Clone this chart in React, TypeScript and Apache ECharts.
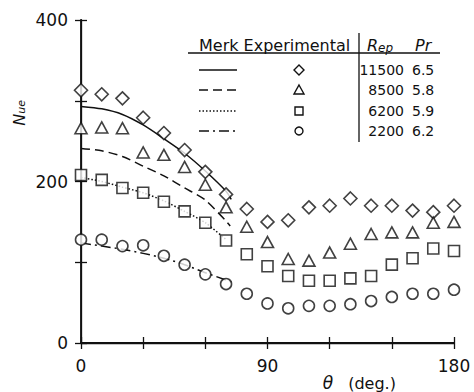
import React, { useEffect, useRef } from "react";
import * as echarts from "echarts";

// Measurement angles (deg) for the experimental points
const angles = [0, 10, 20, 30, 40, 50, 60, 70, 80, 90, 100, 110, 120, 130, 140, 150, 160, 170, 180];

// Experimental Nu values, one array per Reynolds number
const nuRe11500 = [313, 308, 303, 279, 260, 239, 212, 184, 166, 150, 152, 168, 170, 179, 170, 170, 164, 162, 170];
const nuRe8500 = [266, 267, 266, 236, 233, 218, 196, 168, 144, 125, 104, 102, 112, 123, 135, 137, 137, 149, 150];
const nuRe6200 = [208, 202, 192, 186, 175, 163, 149, 127, 110, 95, 83, 77, 77, 80, 83, 97, 105, 117, 114];
const nuRe2200 = [128, 128, 120, 121, 108, 97, 85, 73, 61, 49, 43, 46, 46, 48, 52, 57, 61, 61, 66];

// Merk's predictions (front part of the cylinder only)
const merkAngles11500 = [0, 10, 20, 30, 40, 50, 60, 70, 72.5];
const merk11500 = [293, 290, 283, 270, 253, 235, 213, 188, 178];
const merkAngles8500 = [0, 10, 20, 30, 40, 50, 60, 70, 72];
const merk8500 = [241, 238, 231, 219, 207, 192, 177, 151, 145];
const merkAngles6200 = [0, 10, 20, 30, 40, 50, 60, 70];
const merk6200 = [205, 200, 193, 186, 176, 163, 149, 128];
const merkAngles2200 = [0, 10, 20, 30, 40, 50, 60, 70, 73];
const merk2200 = [124, 120, 116, 111, 105, 97, 87, 78, 75];

// Legend table
const reLabels = ["11500", "8500", "6200", "2200"];
const prLabels = ["6.5", "5.8", "5.9", "6.2"];

const FONT = "'DejaVu Sans', sans-serif";
const INK = "#111";

const pairs = (xs: number[], ys: number[]) => xs.map((x, i) => [x, ys[i]]);

const markerSeries = (data: number[], symbol: string, size: number | number[]) => ({
  type: "scatter",
  data: pairs(angles, data),
  symbol,
  symbolSize: size,
  itemStyle: { color: "#fff", borderColor: INK, borderWidth: 1.6 },
  z: 5,
});

const curveSeries = (xs: number[], ys: number[], dash: any) => ({
  type: "line",
  data: pairs(xs, ys),
  showSymbol: false,
  smooth: 0.25,
  lineStyle: { color: INK, width: 1.5, type: dash },
  z: 3,
});

// vertical y-axis title: sideways text where supported, rotated vertical text otherwise
const titleCss = `
.nu-title { writing-mode: vertical-rl; transform: rotate(180deg); }
@supports (writing-mode: sideways-lr) {
  .nu-title { writing-mode: sideways-lr; transform: none; }
}
`;

export default function App() {
  const ref = useRef<HTMLDivElement>(null);

  useEffect(() => {
    if (!ref.current) return;
    const chart = echarts.init(ref.current, undefined, { renderer: "svg" });

    const rowsY = [70, 90, 111, 131];
    const sampleDash: any[] = [null, [9, 5], [1.5, 2], [10, 4, 2, 4]];
    const g: any[] = [];

    // table header
    g.push({
      type: "text",
      x: 199,
      y: 45,
      style: { text: "Merk Experimental", font: `16px ${FONT}`, fill: INK, textVerticalAlign: "middle" },
    });
    g.push({
      type: "text",
      x: 367,
      y: 45,
      style: { text: "R", font: `italic 16px ${FONT}`, fill: INK, textVerticalAlign: "middle" },
    });
    g.push({
      type: "text",
      x: 378,
      y: 48,
      style: { text: "ep", font: `italic 12px ${FONT}`, fill: INK, textVerticalAlign: "middle" },
    });
    g.push({
      type: "text",
      x: 415,
      y: 45,
      style: { text: "Pr", font: `italic 16px ${FONT}`, fill: INK, textVerticalAlign: "middle" },
    });
    g.push({
      type: "line",
      shape: { x1: 188, y1: 53, x2: 440, y2: 53 },
      style: { stroke: INK, lineWidth: 1.3 },
    });
    g.push({
      type: "line",
      shape: { x1: 359, y1: 33, x2: 359, y2: 142 },
      style: { stroke: INK, lineWidth: 1.3 },
    });

    rowsY.forEach((y, i) => {
      g.push({
        type: "line",
        shape: { x1: 199, y1: y, x2: 237, y2: y },
        style: { stroke: INK, lineWidth: 1.5, lineDash: sampleDash[i] },
      });
      g.push({
        type: "text",
        x: 404,
        y,
        style: { text: reLabels[i], font: `14px ${FONT}`, fill: INK, textAlign: "right", textVerticalAlign: "middle" },
      });
      g.push({
        type: "text",
        x: 412,
        y,
        style: { text: prLabels[i], font: `14px ${FONT}`, fill: INK, textVerticalAlign: "middle" },
      });
    });

    const cx = 299;
    const sym = { fill: "#fff", stroke: INK, lineWidth: 1.4 };
    g.push({
      type: "polygon",
      shape: { points: [[cx, rowsY[0] - 5], [cx + 5, rowsY[0]], [cx, rowsY[0] + 5], [cx - 5, rowsY[0]]] },
      style: sym,
    });
    g.push({
      type: "polygon",
      shape: { points: [[cx, rowsY[1] - 5], [cx + 5, rowsY[1] + 4], [cx - 5, rowsY[1] + 4]] },
      style: sym,
    });
    g.push({
      type: "rect",
      shape: { x: cx - 4, y: rowsY[2] - 4, width: 8, height: 8 },
      style: sym,
    });
    g.push({
      type: "circle",
      shape: { cx, cy: rowsY[3], r: 4 },
      style: sym,
    });

    // x-axis title
    g.push({
      type: "text",
      x: 328,
      y: 383,
      style: { text: "θ", font: `italic 17px ${FONT}`, fill: INK, textAlign: "center", textVerticalAlign: "middle" },
    });
    g.push({
      type: "text",
      x: 372,
      y: 383,
      style: { text: "(deg.)", font: `16px ${FONT}`, fill: INK, textAlign: "center", textVerticalAlign: "middle" },
    });

    const axisLine = { show: true, lineStyle: { color: INK, width: 1.8 } };
    const thinLine = { show: true, lineStyle: { color: INK, width: 1.3 } };
    const tickStyle = { show: true, inside: true, length: 6, lineStyle: { color: INK, width: 1.3 } };

    chart.setOption({
      animation: false,
      backgroundColor: "#fff",
      grid: { left: 81, right: 20, top: 20, bottom: 49 },
      xAxis: [
        {
          type: "value",
          min: 0,
          max: 180,
          interval: 30,
          axisLine,
          axisTick: tickStyle,
          splitLine: { show: false },
          axisLabel: {
            margin: 14,
            color: INK,
            fontFamily: FONT,
            fontSize: 17,
            formatter: (v: number) => (v % 90 === 0 ? String(v) : ""),
          },
        },
        {
          type: "value",
          position: "top",
          min: 0,
          max: 180,
          interval: 30,
          axisLine: thinLine,
          axisTick: tickStyle,
          splitLine: { show: false },
          axisLabel: { show: false },
        },
      ],
      yAxis: [
        {
          type: "value",
          min: 0,
          max: 400,
          interval: 100,
          axisLine,
          axisTick: tickStyle,
          splitLine: { show: false },
          axisLabel: {
            margin: 13,
            color: INK,
            fontFamily: FONT,
            fontSize: 17,
            formatter: (v: number) => (v % 200 === 0 ? String(v) : ""),
          },
        },
        {
          type: "value",
          position: "right",
          min: 0,
          max: 400,
          interval: 100,
          axisLine: thinLine,
          axisTick: tickStyle,
          splitLine: { show: false },
          axisLabel: { show: false },
        },
      ],
      series: [
        curveSeries(merkAngles11500, merk11500, "solid"),
        curveSeries(merkAngles8500, merk8500, [9, 5]),
        curveSeries(merkAngles6200, merk6200, [1.5, 2]),
        curveSeries(merkAngles2200, merk2200, [10, 4, 2, 4]),
        markerSeries(nuRe11500, "diamond", 13),
        markerSeries(nuRe8500, "triangle", [12, 11]),
        markerSeries(nuRe6200, "rect", 11),
        markerSeries(nuRe2200, "circle", 11),
      ],
      graphic: g,
    });

    return () => chart.dispose();
  }, []);

  return (
    <div style={{ position: "fixed", left: 0, top: 0, width: 474, height: 392, background: "#fff" }}>
      <style>{titleCss}</style>
      <div ref={ref} style={{ position: "absolute", left: 0, top: 0, width: 474, height: 392 }} />
      <div
        style={{
          position: "absolute",
          left: 12,
          top: 96,
          height: 34,
          display: "flex",
          alignItems: "center",
          justifyContent: "center",
          pointerEvents: "none",
        }}
      >
        <div
          className="nu-title"
          style={{
            whiteSpace: "nowrap",
            fontFamily: "'DejaVu Sans', sans-serif",
            fontStyle: "italic",
            color: INK,
            lineHeight: 1,
          }}
        >
          <span style={{ fontSize: 16 }}>N</span>
          <span style={{ fontSize: 11 }}>ue</span>
        </div>
      </div>
    </div>
  );
}
